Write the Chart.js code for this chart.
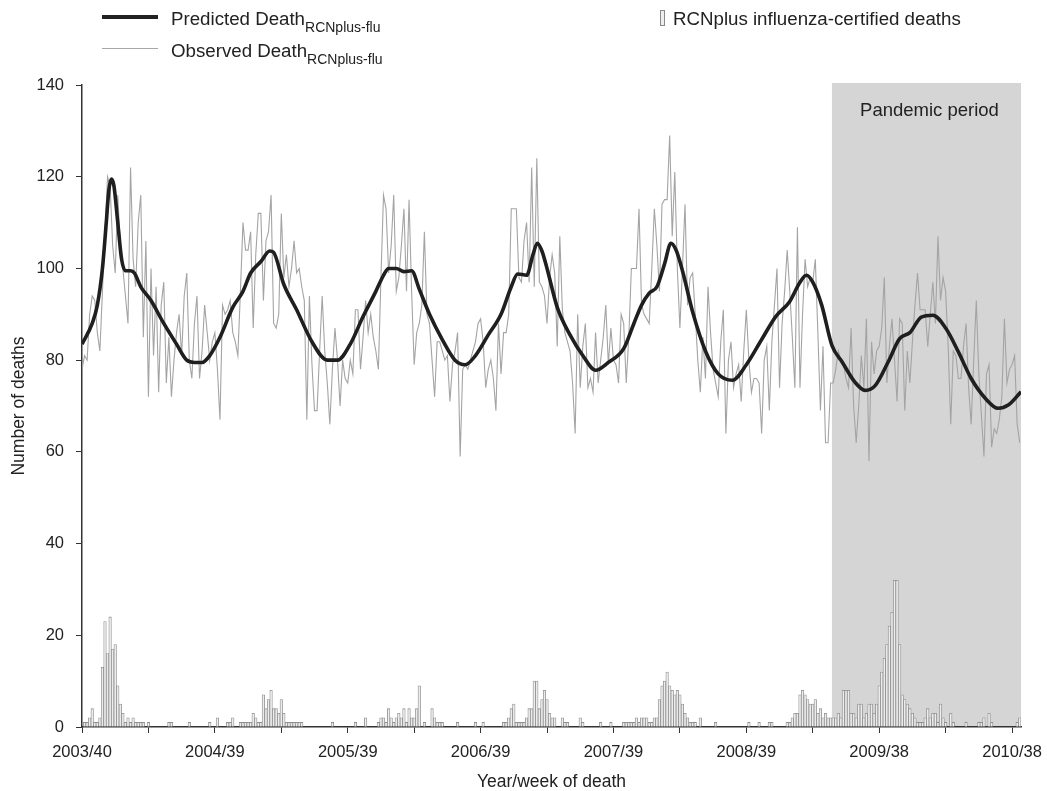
<!DOCTYPE html>
<html>
<head>
<meta charset="utf-8">
<script src="https://cdn.jsdelivr.net/npm/chart.js@4.4.1/dist/chart.umd.min.js"></script>
<style>
body { margin: 0; background: #fff; }
#wrap { position: relative; width: 1047px; height: 791px; font-family: "Liberation Sans", Arial, sans-serif; color: #222; }
.lg { position: absolute; font-size: 18.7px; line-height: 19px; white-space: nowrap; }
.lg sub { font-size: 14px; vertical-align: -7px; line-height: 0; }
.sw { position: absolute; }
</style>
</head>
<body>
<div id="wrap">
<canvas id="chart" width="1047" height="791"></canvas>
<div class="sw" style="left:102px;top:15px;width:56px;height:4px;background:#222"></div>
<div class="lg" style="left:171px;top:9px">Predicted Death<sub>RCNplus-flu</sub></div>
<div class="sw" style="left:102px;top:48px;width:56px;height:1px;background:#a8a8a8"></div>
<div class="lg" style="left:171px;top:41px">Observed Death<sub>RCNplus-flu</sub></div>
<div class="sw" style="left:660px;top:10px;width:3px;height:14px;border:1px solid #8a8a8a;background:#eee"></div>
<div class="lg" style="left:673px;top:9px">RCNplus influenza-certified deaths</div>
</div>
<script>
// weekly series, week 0 = 2003/40
var observedDeaths = [
  78,81,80,90,94,93,86,82,95,108, 120,118,105,99,116,105,100,94,88,122,
  102,96,110,116,85,106,72,100,81,96, 73,92,97,75,85,72,80,86,90,81,
  94,99,80,76,88,94,76,82,92,86, 80,84,86,78,67,92,90,91,93,86,
  84,81,95,110,104,104,108,87,103,112, 112,93,106,108,116,88,87,90,112,98,
  103,96,100,106,99,100,96,93,67,94, 79,69,69,82,94,82,75,66,78,87,
  80,70,80,76,75,80,77,91,91,78, 85,93,86,90,85,82,78,98,116,113,
  99,105,116,95,98,105,113,95,115,95, 79,86,88,92,108,90,88,80,72,84,
  84,82,80,81,71,79,82,86,59,78, 79,78,80,82,84,88,89,84,74,78,
  80,76,69,88,77,86,86,90,113,113, 113,98,97,106,110,97,122,96,124,97,
  96,94,88,98,103,99,83,107,91,86, 84,82,75,64,90,74,83,88,74,76,
  73,86,75,80,85,92,79,87,80,79, 75,90,88,75,85,100,100,100,113,92,
  90,89,88,100,113,105,95,114,115,115, 129,107,121,100,87,100,114,92,98,99,
  90,80,73,85,76,96,86,78,75,72, 84,91,64,80,84,74,77,79,71,82,
  91,80,73,76,76,75,64,80,83,69, 84,92,100,74,88,95,104,95,85,74,
  109,74,90,102,96,98,97,102,86,69, 83,62,62,75,75,78,82,80,79,76,
  74,87,70,62,70,81,74,89,58,84, 77,82,83,87,98,75,83,89,80,71,
  89,88,69,82,75,84,92,99,91,91, 91,83,90,97,88,107,93,98,95,83,
  66,82,81,76,76,83,88,74,66,80, 93,77,68,59,77,79,61,65,64,67,
  72,89,75,78,79,81,66,62
];

var fluDeaths = [
  0,1,1,2,4,1,1,2,13,23, 16,24,17,18,9,5,3,1,2,1,
  2,1,1,1,1,0,1,0,0,0, 0,0,0,0,1,1,0,0,0,0,
  0,0,1,0,0,0,0,0,0,0, 1,0,0,2,0,0,0,1,1,2,
  0,0,1,1,1,1,1,3,2,1, 1,7,4,6,8,4,4,3,6,3,
  1,1,1,1,1,1,1,0,0,0, 0,0,0,0,0,0,0,0,1,0,
  0,0,0,0,0,0,0,1,0,0, 0,2,0,0,0,0,1,2,2,1,
  4,2,1,2,3,2,4,1,4,2, 2,4,9,0,1,0,0,4,2,1,
  1,1,0,0,0,0,0,1,0,0, 0,0,0,0,1,0,0,1,0,0,
  0,0,0,0,0,1,1,2,4,5, 1,1,1,1,2,4,4,10,10,4,
  6,8,6,3,2,2,0,0,2,1, 1,0,0,0,0,2,1,0,0,0,
  0,0,0,1,0,0,0,1,0,0, 0,0,1,1,1,1,1,2,1,2,
  2,2,1,1,2,2,6,9,10,12, 9,8,7,8,7,5,3,2,1,1,
  1,0,2,0,0,0,0,0,1,0, 0,0,0,0,0,0,0,0,0,0,
  0,1,0,0,0,1,0,0,0,1, 1,0,0,0,0,0,1,1,2,3,
  3,7,8,7,6,5,5,6,3,4, 2,3,2,2,2,2,3,2,8,8,
  8,3,3,2,5,5,2,3,5,5, 3,5,9,12,15,18,22,25,32,32,
  18,7,6,5,4,3,2,1,1,1, 2,4,2,3,3,1,5,2,1,0,
  3,1,0,0,0,0,1,0,0,0, 0,1,1,2,0,3,1,0,0,0,
  0,0,0,0,0,0,1,2
];

// smooth model curve, read at these weeks
var predictedWeeks = [0,4,6,8,9.5,10.5,11.5,12.5,14,15.5,17,19,20.5,23,27,32,37,41,44,47,50,54,59,63,66,70,73.5,75,79,84,90,96,100,105,110,115,118,120,123,126,129,132,136,141,146,150,154,159,164,168,170.5,174,176.5,178.2,180,182,186,191,196,201,206,212,216,219,222,225,228,230.5,232.5,235,239,244,249,254.5,260,266,271.5,277,281,283.5,286,289.5,293.5,297.5,302.5,306.5,310.5,315.5,320,324,328.5,333,338,343,348,353.5,358.5,362.5,367.5];
var predictedDeaths = [83.5,88,92,100,110,117,119.5,118,110,102,99.5,99.5,99,96,93,88,83.5,80,79.5,79.5,81,85,91.5,95,99,101.5,103.8,103.5,96.5,91,84,80,80,83.5,89.5,95,98.5,100,100,99.3,99.5,95.5,90,84.5,80,79,81,85.5,90,96,98.8,98.5,103,105.5,103.8,100,91.5,85.5,81,77.8,79.5,82.5,88,92,94.6,96,101,105.5,104,99.5,90.5,82,77,75.6,79,84.5,89.5,92.8,97,98.5,97,92,83.2,79.6,75.2,73.4,74.5,79.6,84.7,86,89.4,89.8,87,81.8,76,71.7,69.5,70.2,73.1];

var weekTicks = [0,26,52,78,104,130,156,182,208,234,260,286,312,338,364];
var tickLabels = ['2003/40','2004/39','2005/39','2006/39','2007/39','2008/39','2009/38','2010/38'];
var pandemicStart = 293.5;
var weekEnd = 367.5;

var FONT = '"Liberation Sans", Arial, sans-serif';

function labelFor(v) {
  return v % 52 === 0 ? tickLabels[v / 52] : '';
}

var pandemicBand = {
  id: 'pandemicBand',
  beforeDraw: function (chart) {
    var ctx = chart.ctx, a = chart.chartArea;
    var x0 = chart.scales.x.getPixelForValue(pandemicStart);
    var yb = chart.scales.y.getPixelForValue(0);
    ctx.save();
    ctx.fillStyle = '#d5d5d5';
    ctx.fillRect(x0, a.top - 2, a.right - x0, yb - a.top + 2);
    ctx.fillStyle = '#222';
    ctx.font = '18.5px ' + FONT;
    ctx.textAlign = 'center';
    ctx.textBaseline = 'middle';
    ctx.fillText('Pandemic period', (x0 + a.right) / 2 + 3, a.top + 26);
    ctx.restore();
  }
};

new Chart(document.getElementById('chart'), {
  type: 'bar',
  data: {
    datasets: [
      {
        type: 'line',
        data: predictedWeeks.map(function (w, i) { return { x: w, y: predictedDeaths[i] }; }),
        borderColor: '#1f1f1f', borderWidth: 3.6, pointRadius: 0,
        cubicInterpolationMode: 'monotone', order: 1
      },
      {
        type: 'line',
        data: observedDeaths.map(function (v, i) { return { x: i, y: v }; }),
        borderColor: '#a4a4a4', borderWidth: 1.1, pointRadius: 0, tension: 0, order: 2
      },
      {
        type: 'bar',
        data: fluDeaths.map(function (v, i) { return { x: i, y: v || null }; }),
        backgroundColor: '#ececec', borderColor: '#8f8f8f', borderWidth: 0.8,
        barPercentage: 1, categoryPercentage: 1, order: 3
      }
    ]
  },
  options: {
    responsive: false,
    animation: false,
    devicePixelRatio: 1,
    layout: { padding: { left: 0, right: 26, top: 85, bottom: 0 } },
    plugins: { legend: { display: false }, tooltip: { enabled: false } },
    scales: {
      x: {
        type: 'linear', min: 0, max: weekEnd, offset: false,
        afterBuildTicks: function (s) { s.ticks = weekTicks.map(function (v) { return { value: v }; }); },
        afterFit: function (s) { s.height = 64; s.paddingLeft = 0; s.paddingRight = 0; },
        ticks: {
          autoSkip: false, maxRotation: 0, padding: 10, color: '#222',
          font: { family: FONT, size: 16.5 },
          callback: function (v) { return labelFor(v); }
        },
        grid: { drawOnChartArea: false, drawTicks: true, tickLength: 6, color: '#333', offset: false },
        border: { color: '#333', width: 1.5 },
        title: { display: true, text: 'Year/week of death', color: '#222', font: { family: FONT, size: 17.5 }, padding: { top: 0, bottom: -2 } }
      },
      y: {
        min: 0, max: 140,
        afterFit: function (s) { s.width = 82; },
        ticks: { stepSize: 20, padding: 12, color: '#222', font: { family: FONT, size: 16.5 } },
        grid: { drawOnChartArea: false, drawTicks: true, tickLength: 6, color: '#333' },
        border: { color: '#333', width: 1.5 },
        title: { display: true, text: 'Number of deaths', color: '#222', font: { family: FONT, size: 17.5 }, padding: { top: 9, bottom: 0 } }
      }
    }
  },
  plugins: [pandemicBand]
});
</script>
</body>
</html>
